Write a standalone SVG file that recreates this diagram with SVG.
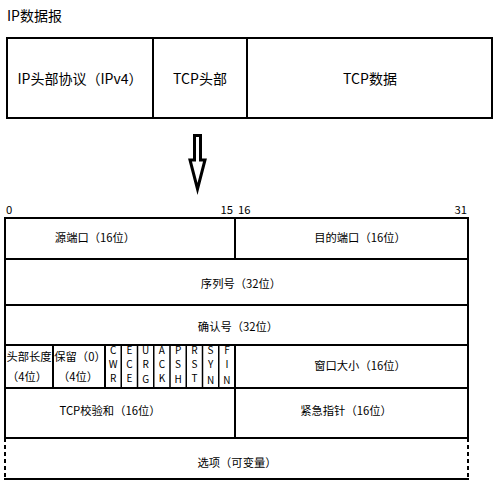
<svg xmlns="http://www.w3.org/2000/svg" width="498" height="487" viewBox="0 0 498 487">
<style>
text{font-family:"Noto Sans CJK SC","Noto Sans",sans-serif;fill:#000}
.t14{font-size:14px}
.t11{font-size:11.3px}
.f9{font-size:10px;text-anchor:middle}
.c{text-anchor:middle}
.ln{stroke:#000;stroke-width:2;fill:none}
.dash{stroke:#000;stroke-width:2;fill:none;stroke-dasharray:4,3}
</style>
<rect width="498" height="487" fill="#fff"/>
<text class="t14" x="7" y="21">IP数据报</text>
<g id="ip-datagram">
<rect class="ln" x="7" y="38" width="485" height="80"/>
<line class="ln" x1="153" y1="38" x2="153" y2="118"/>
<line class="ln" x1="247" y1="38" x2="247" y2="118"/>
<text class="t14 c" x="80" y="84">IP头部协议（IPv4）</text>
<text class="t14 c" x="200" y="84">TCP头部</text>
<text class="t14 c" x="370" y="84">TCP数据</text>
</g>
<g id="arrow">
<path d="M194.5,135.5 H200.5 V160 H205 L197.5,189 L190,160 H194.5 Z" fill="#fff" stroke="#000" stroke-width="3" stroke-linejoin="miter"/>
</g>
<g id="bit-labels">
<text class="t11" x="6" y="214">0</text>
<text class="t11" x="233" y="214" text-anchor="end">15</text>
<text class="t11" x="238" y="214">16</text>
<text class="t11" x="467" y="214" text-anchor="end">31</text>
</g>
<g id="tcp-header">
<polyline class="ln" points="5,438 5,218 468,218 468,438"/>
<line class="ln" x1="5" y1="259" x2="468" y2="259"/>
<line class="ln" x1="5" y1="305" x2="468" y2="305"/>
<line class="ln" x1="5" y1="345" x2="468" y2="345"/>
<line class="ln" x1="5" y1="388" x2="468" y2="388"/>
<line class="ln" x1="5" y1="438" x2="468" y2="438"/>
<line class="ln" x1="235" y1="218" x2="235" y2="259"/>
<line class="ln" x1="235" y1="345" x2="235" y2="438"/>
<line class="ln" x1="53" y1="345" x2="53" y2="388"/>
<line class="ln" x1="105" y1="345" x2="105" y2="388"/>
<g stroke="#000" stroke-width="1.5">
<line x1="121.25" y1="345" x2="121.25" y2="388"/>
<line x1="137.5" y1="345" x2="137.5" y2="388"/>
<line x1="153.75" y1="345" x2="153.75" y2="388"/>
<line x1="170" y1="345" x2="170" y2="388"/>
<line x1="186.25" y1="345" x2="186.25" y2="388"/>
<line x1="202.5" y1="345" x2="202.5" y2="388"/>
<line x1="218.75" y1="345" x2="218.75" y2="388"/>
</g>
<line class="dash" x1="5" y1="438" x2="5" y2="479"/>
<line class="dash" x1="468" y1="438" x2="468" y2="479"/>
<line class="ln" x1="4" y1="479" x2="469" y2="479"/>
</g>
<g id="src-port"><text class="t11 c" x="95" y="242">源端口（16位）</text></g>
<g id="dst-port"><text class="t11 c" x="360" y="242">目的端口（16位）</text></g>
<g id="seq"><text class="t11 c" x="241" y="288">序列号（32位）</text></g>
<g id="ack"><text class="t11 c" x="238" y="331">确认号（32位）</text></g>
<g id="hdr-len"><text class="t11 c" x="29" y="361">头部长度</text><text class="t11 c" x="27" y="381">（4位）</text></g>
<g id="reserved"><text class="t11 c" x="80" y="361">保留（0）</text><text class="t11 c" x="78" y="381">（4位）</text></g>
<g id="flags">
<text class="f9" x="113.1" y="354">C</text><text class="f9" x="113.1" y="368">W</text><text class="f9" x="113.1" y="382">R</text>
<text class="f9" x="129.4" y="354">E</text><text class="f9" x="129.4" y="368">C</text><text class="f9" x="129.4" y="382">E</text>
<text class="f9" x="145.6" y="354">U</text><text class="f9" x="145.6" y="368">R</text><text class="f9" x="145.6" y="383">G</text>
<text class="f9" x="161.9" y="354">A</text><text class="f9" x="161.9" y="368">C</text><text class="f9" x="161.9" y="382">K</text>
<text class="f9" x="178.1" y="354">P</text><text class="f9" x="178.1" y="368">S</text><text class="f9" x="178.1" y="383">H</text>
<text class="f9" x="194.4" y="354">R</text><text class="f9" x="194.4" y="368">S</text><text class="f9" x="194.4" y="382">T</text>
<text class="f9" x="210.6" y="354">S</text><text class="f9" x="210.6" y="368">Y</text><text class="f9" x="210.6" y="384">N</text>
<text class="f9" x="226.9" y="354">F</text><text class="f9" x="226.9" y="368">I</text><text class="f9" x="226.9" y="384">N</text>
</g>
<g id="window"><text class="t11 c" x="360" y="370">窗口大小（16位）</text></g>
<g id="checksum"><text class="t11 c" x="110" y="415">TCP校验和（16位）</text></g>
<g id="urgent"><text class="t11 c" x="346" y="415">紧急指针（16位）</text></g>
<g id="options"><text class="t11 c" x="237" y="467">选项（可变量）</text></g>
</svg>
